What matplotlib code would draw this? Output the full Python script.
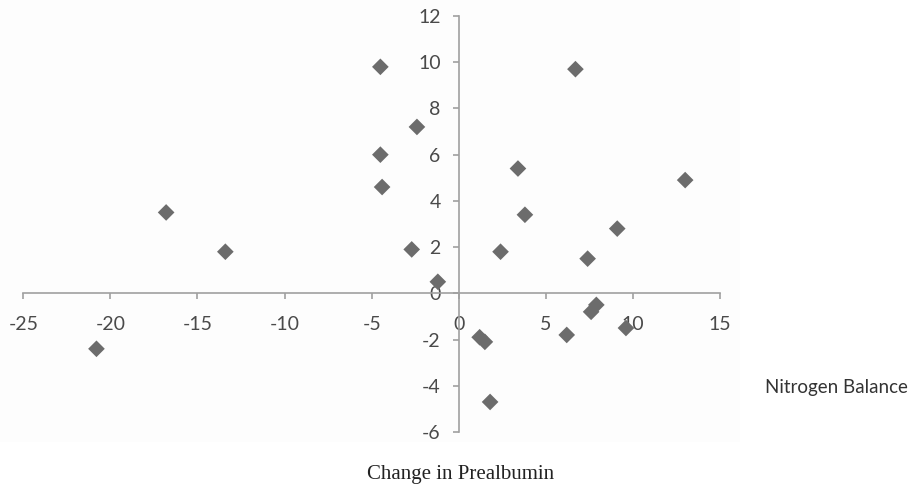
import matplotlib
matplotlib.use("Agg")
import matplotlib.pyplot as plt
from matplotlib.patches import Rectangle

# Data #
nitrogen_balance = [-20.8, -16.8, -13.4, -4.5, -2.4, -4.5, -4.4, -2.7, -1.2,
                    6.7, 3.4, 3.8, 13.0, 9.1, 2.4, 7.4, 7.6, 7.9, 9.6, 6.2,
                    1.2, 1.5, 1.8]
change_prealbumin = [-2.4, 3.5, 1.8, 9.8, 7.2, 6.0, 4.6, 1.9, 0.5,
                     9.7, 5.4, 3.4, 4.9, 2.8, 1.8, 1.5, -0.8, -0.5, -1.5, -1.8,
                     -1.9, -2.1, -4.7]
x_ticks = [-25, -20, -15, -10, -5, 0, 5, 10, 15]
y_ticks = [-6, -4, -2, 0, 2, 4, 6, 8, 10, 12]

axis_grey = "#a0a0a0"
text_grey = "#4a4a4a"
marker_grey = "#6c6c6c"

fig = plt.figure(figsize=(9.11, 4.88), dpi=100)
fig.patches.append(Rectangle((0, 488 - 442), 740, 442, transform=None,
                             facecolor="#fdfdfd", edgecolor="none", zorder=-1))

# Axes placement (pixels -> figure fraction) #
ax = fig.add_axes([23.3 / 911, (488 - 432) / 488, (720 - 23.3) / 911, (432 - 16) / 488])
ax.patch.set_visible(False)

ax.scatter(nitrogen_balance, change_prealbumin, marker="D", s=72,
           color=marker_grey, edgecolors="none", zorder=3, clip_on=False)

ax.set_xlim(-25, 15)
ax.set_ylim(-6, 12)
ax.set_xticks(x_ticks)
ax.set_yticks(y_ticks)
ax.set_xticklabels([str(v) for v in x_ticks])
ax.set_yticklabels([str(v) for v in y_ticks])

# Axes cross at the origin #
ax.spines["left"].set_position(("data", 0))
ax.spines["bottom"].set_position(("data", 0))
ax.spines["right"].set_visible(False)
ax.spines["top"].set_visible(False)
for side in ["left", "bottom"]:
    ax.spines[side].set_color(axis_grey)
    ax.spines[side].set_linewidth(1.2)

ax.tick_params(axis="both", direction="out", length=4, width=1.2, color=axis_grey,
               labelcolor=text_grey, labelsize=14)
ax.tick_params(axis="x", pad=12)
ax.tick_params(axis="y", pad=9)
for lab in ax.get_xticklabels() + ax.get_yticklabels():
    lab.set_family("Lato")

fig.text(836 / 911, 1 - 387 / 488, "Nitrogen Balance", ha="center", va="center",
         fontsize=13.5, family="Lato", color="#333333")
fig.text(461 / 911, 1 - 474 / 488, "Change in Prealbumin", ha="center", va="center",
         fontsize=15, family="Liberation Serif", color="#222222")

fig.savefig("out.png", dpi=100)
